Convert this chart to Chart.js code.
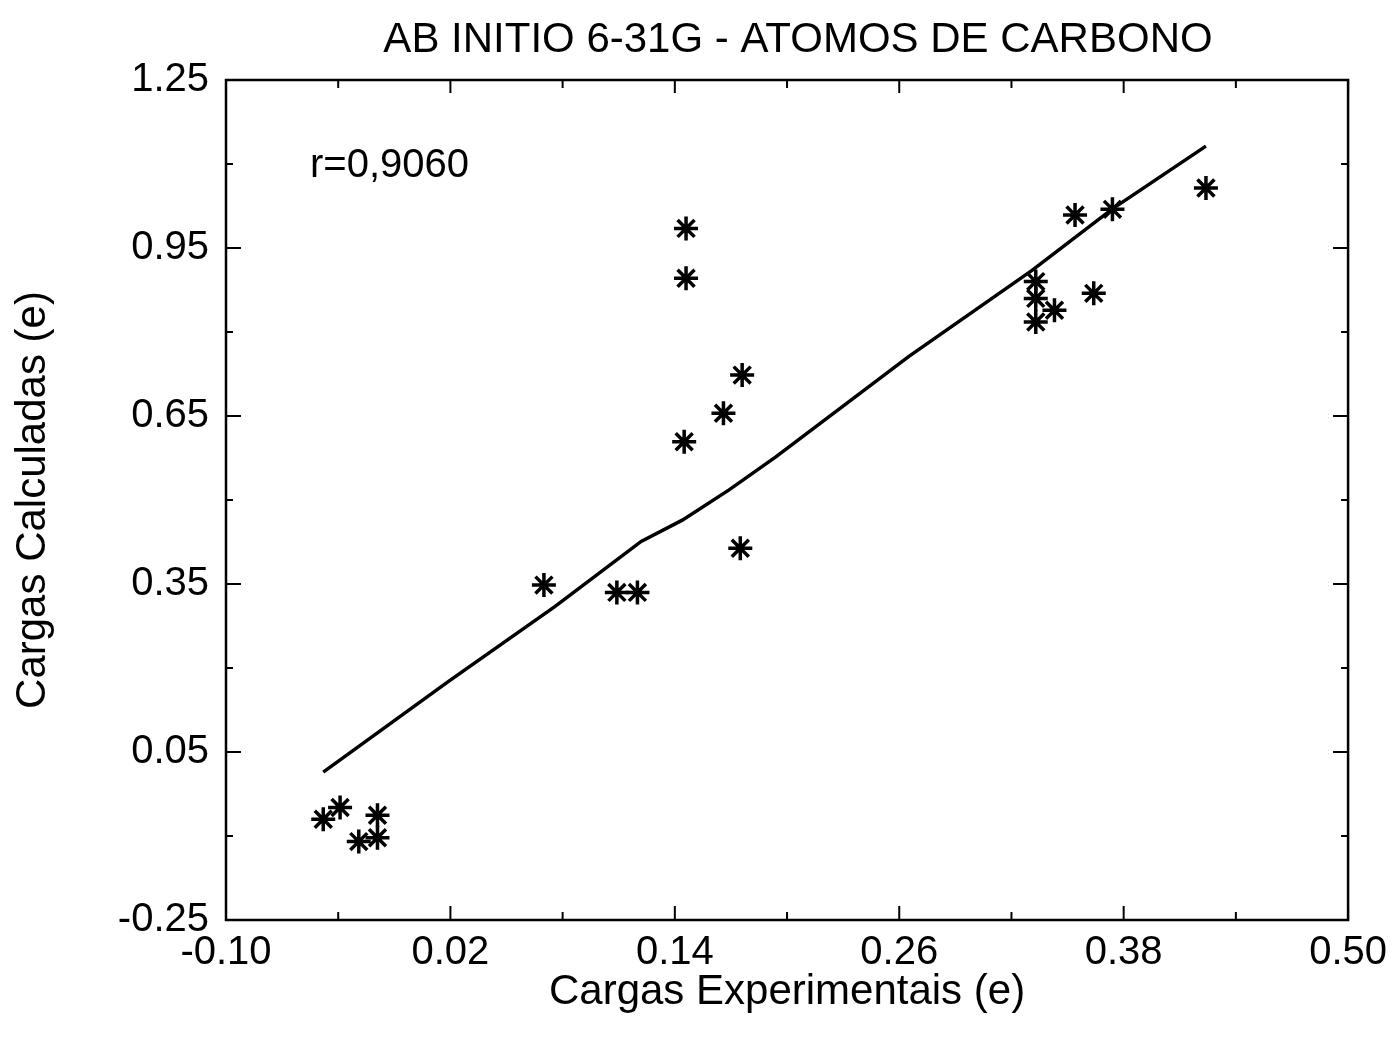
<!DOCTYPE html>
<html>
<head>
<meta charset="utf-8">
<title>AB INITIO 6-31G - ATOMOS DE CARBONO</title>
<script src="https://cdn.jsdelivr.net/npm/chart.js@4.4.1/dist/chart.umd.min.js"></script>
<style>
  html, body { margin: 0; padding: 0; background: #fff; }
  canvas { display: block; }
</style>
</head>
<body>
<canvas id="myChart" width="1396" height="1039"></canvas>
<script>
// Cargas experimentais (x) e calculadas (y) - átomos de carbono
const expX = [-0.048, -0.039, -0.029, -0.019, -0.019, 0.070, 0.109, 0.120, 0.146, 0.146, 0.145, 0.166, 0.176, 0.175, 0.354, 0.374, 0.424, 0.333, 0.333, 0.333, 0.343, 0.364];
const calcY = [-0.070, -0.049, -0.110, -0.063, -0.103, 0.348, 0.335, 0.335, 0.985, 0.896, 0.604, 0.655, 0.723, 0.414, 1.009, 1.019, 1.057, 0.890, 0.860, 0.818, 0.839, 0.869];

// Curva de ajuste
const fitX = [-0.048, 0.019, 0.076, 0.122, 0.144, 0.169, 0.194, 0.265, 0.331, 0.374, 0.424];
const fitY = [0.014, 0.176, 0.310, 0.426, 0.464, 0.518, 0.577, 0.756, 0.910, 1.020, 1.132];

// Eixos
const xTicks = [-0.10, 0.02, 0.14, 0.26, 0.38, 0.50];
const xTickLabels = ["-0.10", "0.02", "0.14", "0.26", "0.38", "0.50"];
const xMinor = [-0.04, 0.08, 0.20, 0.32, 0.44];
const yTicks = [-0.25, 0.05, 0.35, 0.65, 0.95, 1.25];
const yTickLabels = ["-0.25", "0.05", "0.35", "0.65", "0.95", "1.25"];
const yMinor = [-0.10, 0.20, 0.50, 0.80, 1.10];

const chartTitle = "AB INITIO 6-31G - ATOMOS DE CARBONO";
const rLabel = "r=0,9060";
const FONT = '"Liberation Sans", Arial, Helvetica, sans-serif';

// Moldura, marcas internas, título e coeficiente
const framePlugin = {
    id: "frame",
    afterDraw(chart) {
        const { ctx, chartArea: a, scales: { x, y } } = chart;
        ctx.save();
        ctx.strokeStyle = "#000";
        ctx.lineWidth = 2.5;
        ctx.strokeRect(a.left, a.top, a.right - a.left, a.bottom - a.top);

        ctx.lineWidth = 2;
        const seg = (x1, y1, x2, y2) => {
            ctx.beginPath();
            ctx.moveTo(x1, y1);
            ctx.lineTo(x2, y2);
            ctx.stroke();
        };
        xTicks.forEach(v => {
            const px = x.getPixelForValue(v);
            seg(px, a.bottom, px, a.bottom - 14);
            seg(px, a.top, px, a.top + 13);
        });
        xMinor.forEach(v => {
            const px = x.getPixelForValue(v);
            seg(px, a.bottom, px, a.bottom - 8);
            seg(px, a.top, px, a.top + 8);
        });
        yTicks.forEach(v => {
            const py = y.getPixelForValue(v);
            seg(a.left, py, a.left + 15, py);
            seg(a.right, py, a.right - 15, py);
        });
        yMinor.forEach(v => {
            const py = y.getPixelForValue(v);
            seg(a.left, py, a.left + 7, py);
            seg(a.right, py, a.right - 7, py);
        });

        ctx.fillStyle = "#000";
        ctx.textBaseline = "middle";
        ctx.textAlign = "center";
        ctx.font = "42px " + FONT;
        ctx.fillText(chartTitle, 798, 40);

        ctx.textAlign = "left";
        ctx.font = "40px " + FONT;
        ctx.fillText(rLabel, 310, 166);
        ctx.restore();
    }
};

document.addEventListener("DOMContentLoaded", function() {
    const ctx = document.getElementById("myChart");

    const points = expX.map((v, i) => ({ x: v, y: calcY[i] }));
    const fitPoints = fitX.map((v, i) => ({ x: v, y: fitY[i] }));

    const tickFont = { family: FONT, size: 40 };
    const titleFont = { family: FONT, size: 42 };

    new Chart(ctx.getContext("2d"), {
        type: "scatter",
        data: {
            datasets: [
                {
                    label: "Cargas",
                    data: points,
                    pointStyle: "star",
                    pointRadius: 12,
                    borderColor: "#000",
                    backgroundColor: "#000",
                    borderWidth: 3.5,
                    showLine: false
                },
                {
                    label: "Ajuste",
                    data: fitPoints,
                    showLine: true,
                    pointRadius: 0,
                    borderColor: "#000",
                    borderWidth: 3.5,
                    tension: 0,
                    fill: false
                }
            ]
        },
        options: {
            responsive: false,
            animation: false,
            devicePixelRatio: 1,
            layout: { padding: { top: 80, right: 44, left: 0, bottom: 0 } },
            plugins: {
                legend: { display: false },
                tooltip: { enabled: false }
            },
            scales: {
                x: {
                    type: "linear",
                    min: -0.10,
                    max: 0.50,
                    afterBuildTicks: s => { s.ticks = xTicks.map(v => ({ value: v })); },
                    afterFit: s => { s.height = 119; },
                    ticks: {
                        callback: (v, i) => xTickLabels[i],
                        font: tickFont,
                        color: "#000",
                        padding: 9,
                        maxRotation: 0,
                        autoSkip: false
                    },
                    grid: { display: false, drawTicks: false },
                    border: { display: false },
                    title: {
                        display: true,
                        text: "Cargas Experimentais (e)",
                        font: titleFont,
                        color: "#000",
                        padding: { top: 0, bottom: 21 }
                    }
                },
                y: {
                    type: "linear",
                    min: -0.25,
                    max: 1.25,
                    afterBuildTicks: s => { s.ticks = yTicks.map(v => ({ value: v })); },
                    afterFit: s => { s.width = 226; },
                    ticks: {
                        callback: (v, i) => yTickLabels[i],
                        font: tickFont,
                        color: "#000",
                        padding: 17,
                        autoSkip: false
                    },
                    grid: { display: false, drawTicks: false },
                    border: { display: false },
                    title: {
                        display: true,
                        text: "Cargas Calculadas (e)",
                        font: titleFont,
                        color: "#000",
                        padding: { top: 8, bottom: 0 }
                    }
                }
            }
        },
        plugins: [framePlugin]
    });
});
</script>
</body>
</html>
